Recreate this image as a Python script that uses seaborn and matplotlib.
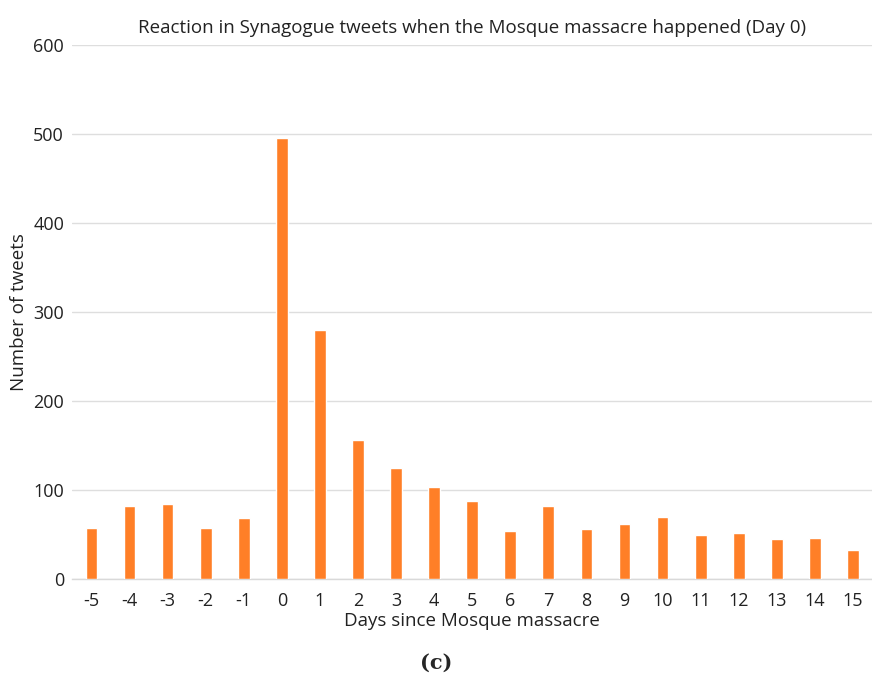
import pandas as pd
import matplotlib
matplotlib.use('Agg')
import matplotlib.pyplot as plt
import seaborn as sns

days = ['-5', '-4', '-3', '-2', '-1', '0', '1', '2', '3', '4', '5',
        '6', '7', '8', '9', '10', '11', '12', '13', '14', '15']
tweets = [58, 82, 85, 58, 69, 496, 280, 156, 125, 104, 88,
          54, 82, 56, 62, 70, 50, 52, 45, 46, 33]
yticks = [0, 100, 200, 300, 400, 500, 600]

df = pd.DataFrame({'day': days, 'tweets': tweets})

sns.set_style('white')
plt.rcParams['font.family'] = ['Open Sans', 'DejaVu Sans']

fig = plt.figure(figsize=(8.72, 6.75), dpi=100)
ax = fig.add_axes([0.083, 0.142, 0.917, 0.791])

sns.barplot(data=df, x='day', y='tweets', order=days, color='#FF7F27',
            saturation=1, width=0.31, ax=ax, zorder=3)

ax.set_ylim(0, 600)
ax.set_yticks(yticks)
ax.set_xlim(-0.5, len(days) - 0.5)
ax.yaxis.grid(True, color='#dedede', linewidth=1, zorder=0)
ax.set_axisbelow(True)
for s in ['top', 'right', 'left']:
    ax.spines[s].set_visible(False)
ax.spines['bottom'].set_color('#d9d9d9')
ax.spines['bottom'].set_linewidth(1)
ax.tick_params(axis='both', length=0, labelsize=13, colors='#222222')
ax.tick_params(axis='x', pad=9)
ax.tick_params(axis='y', pad=6)

ax.set_xlabel('Days since Mosque massacre', fontsize=13.5, labelpad=2, color='#222222')
ax.set_ylabel('Number of tweets', fontsize=13.5, labelpad=4, color='#222222')
ax.set_title('Reaction in Synagogue tweets when the Mosque massacre happened (Day 0)',
             fontsize=13.5, color='#222222', pad=9)

fig.text(0.5, 0.018, '(c)', ha='center', va='center', fontsize=15,
         fontweight='bold', family='DejaVu Serif')

fig.savefig('out.png', dpi=100)
